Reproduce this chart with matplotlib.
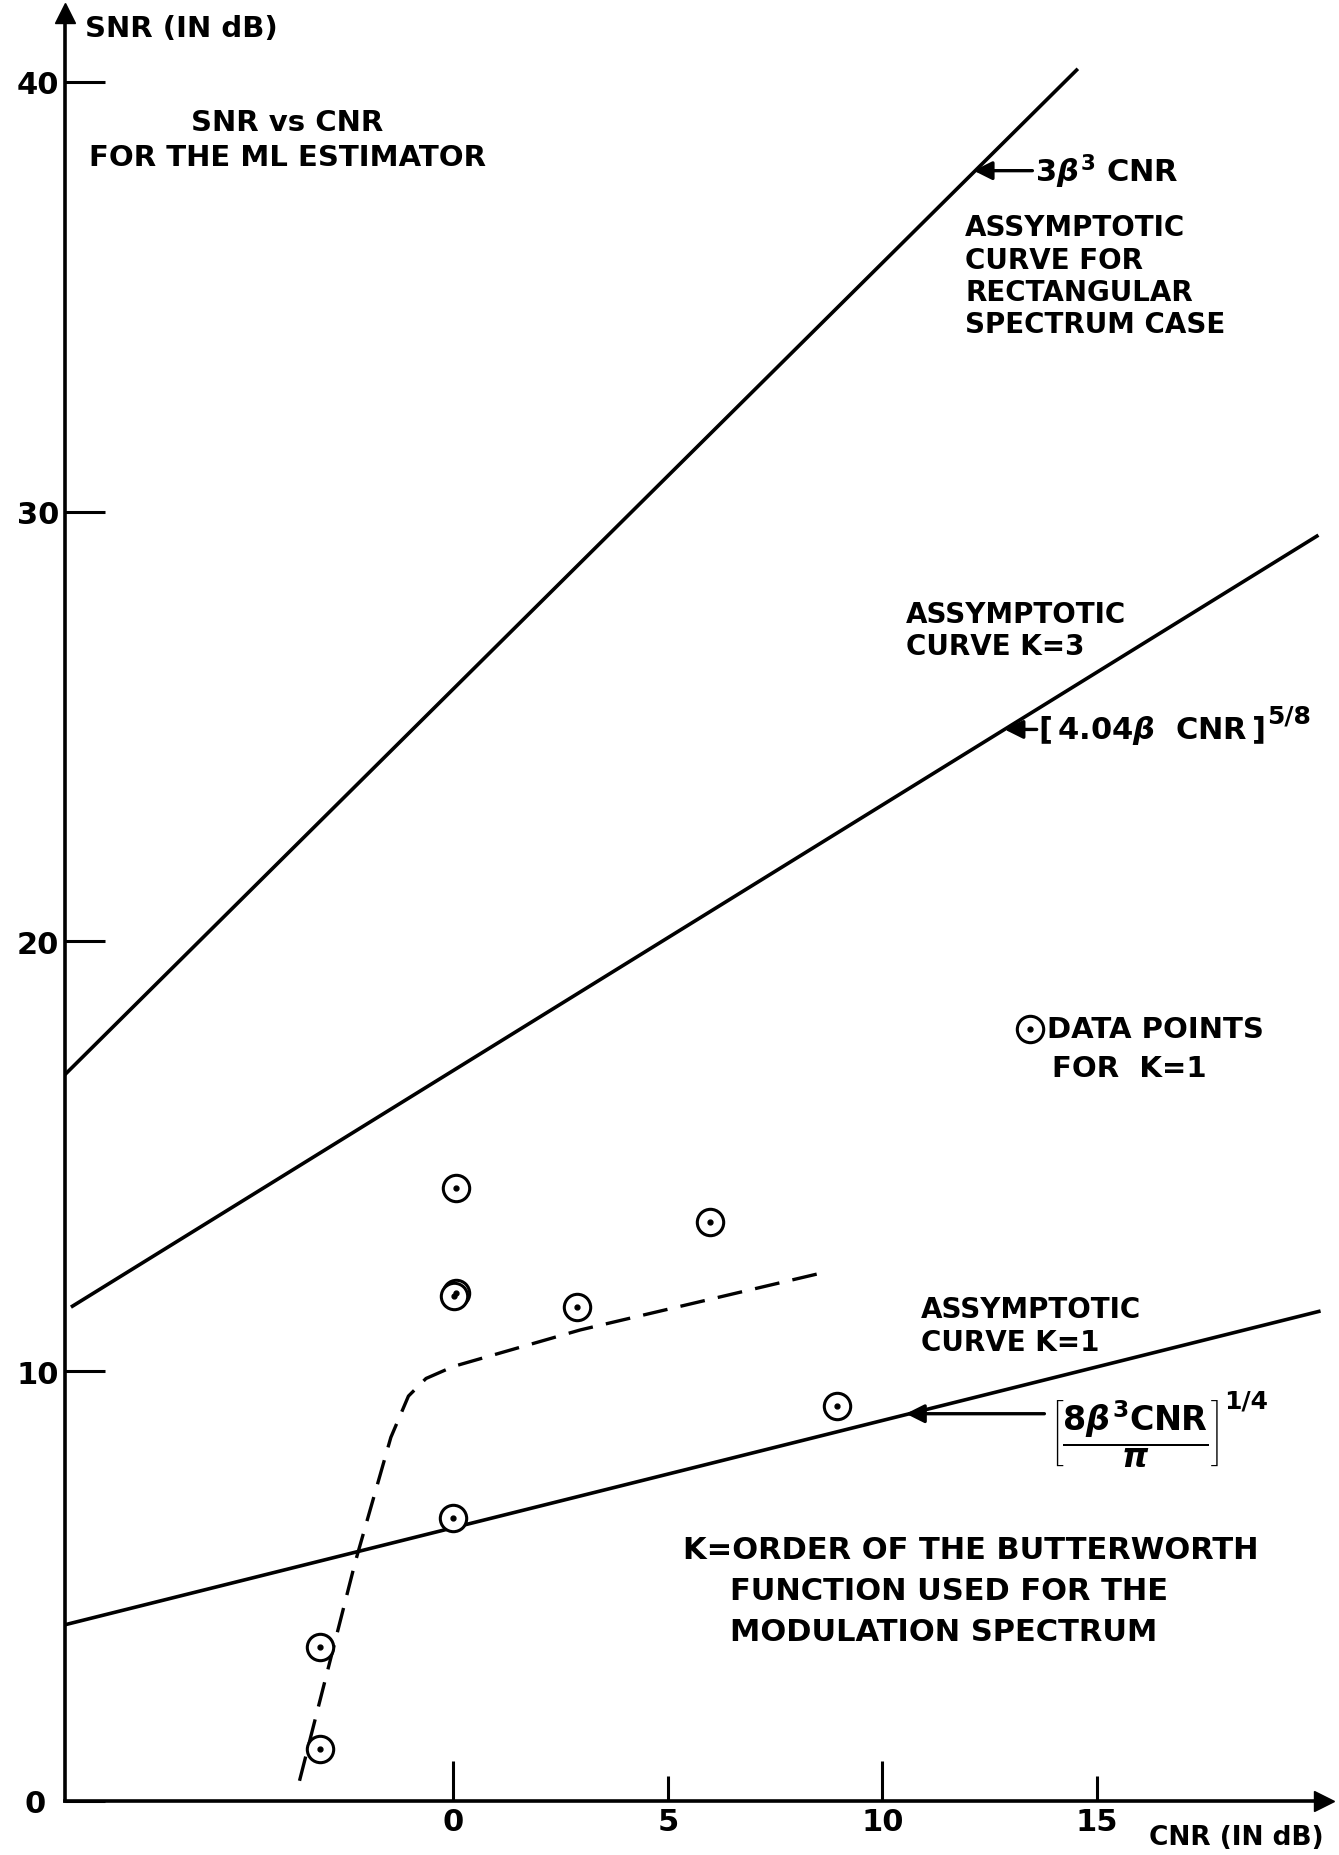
"""SNR vs CNR for the ML estimator - redraw of the hand-lettered chart."""

import matplotlib

matplotlib.use("Agg")
import matplotlib.pyplot as plt  # noqa: E402

plt.rcParams["font.family"] = ["DejaVu Sans"]
plt.rcParams["font.weight"] = "bold"
plt.rcParams["mathtext.fontset"] = "custom"
plt.rcParams["mathtext.rm"] = "DejaVu Sans:bold"
plt.rcParams["mathtext.it"] = "DejaVu Sans:italic:bold"
plt.rcParams["mathtext.bf"] = "DejaVu Sans:bold"

# asymptotic curves (CNR dB -> SNR dB), end points
rect_x = [-9.06, 14.56]
rect_y = [16.9, 40.3]
k3_x = [-8.92, 20.17]
k3_y = [11.49, 29.45]
k1_x = [-9.06, 20.22]
k1_y = [4.10, 11.40]

# dashed fit through the K=1 data
fit_x = [-3.59, -2.29, -1.46, -1.05, -0.64, 0.0, 2.96, 8.48]
fit_y = [0.47, 5.56, 8.46, 9.42, 9.83, 10.11, 10.96, 12.26]

# measured data points for K=1
pts_x = [-3.12, -3.12, 0.0, 0.06, 0.02, 0.05, 2.87, 5.99, 8.95]
pts_y = [1.21, 3.58, 6.58, 11.82, 11.74, 14.27, 11.49, 13.47, 9.20]

x_ticks = [0, 5, 10, 15]
y_ticks = [0, 10, 20, 30, 40]

fig = plt.figure(figsize=(13.39, 18.56), dpi=100)
ax = fig.add_axes([0.0485, 0.0291, 0.9403, 0.9634])
ax.set_xlim(-9.06, 20.3)
ax.set_ylim(0, 41.6)

for s in ("top", "right"):
    ax.spines[s].set_visible(False)
for s in ("left", "bottom"):
    ax.spines[s].set_linewidth(2.6)
ax.plot(1, 0, ">k", transform=ax.transAxes, clip_on=False, markersize=14)
ax.plot(0, 1, "^k", transform=ax.transAxes, clip_on=False, markersize=14)

ax.set_xticks(x_ticks)
ax.set_xticklabels([str(v) for v in x_ticks])
ax.set_yticks(y_ticks)
ax.set_yticklabels([str(v) for v in y_ticks])
ax.tick_params(axis="both", direction="in", width=2.2, length=29,
               labelsize=22, pad=4)
for tk, v in zip(ax.xaxis.get_major_ticks(), x_ticks):
    if v in (5, 15):
        tk.tick1line.set_markersize(18)
for tk, v in zip(ax.yaxis.get_major_ticks(), y_ticks):
    if v == 0:
        tk.tick1line.set_markersize(0)
        tk.set_pad(14)

lw = 2.6
ax.plot(rect_x, rect_y, color="k", lw=lw, solid_capstyle="butt")
ax.plot(k3_x, k3_y, color="k", lw=lw, solid_capstyle="butt")
ax.plot(k1_x, k1_y, color="k", lw=lw, solid_capstyle="butt")
ax.plot(fit_x, fit_y, color="k", lw=2.4, dashes=(7.5, 4))

ax.plot(pts_x, pts_y, "o", ms=19, mfc="white", mec="k", mew=2.2)
ax.plot(pts_x, pts_y, ".", ms=7, color="k")

fs = 20
ax.text(-8.59, 41.24, "SNR (IN dB)", fontsize=21, va="center", ha="left")
ax.text(20.3, -0.83, "CNR (IN dB)", fontsize=19, va="center", ha="right")
ax.text(-3.87, 38.66, "SNR vs CNR\nFOR THE ML ESTIMATOR", fontsize=21,
        ha="center", va="center", multialignment="center", linespacing=1.3)

arrow = dict(arrowstyle="-|>", lw=2.4, color="k", mutation_scale=28,
             shrinkA=0, shrinkB=0)

# rectangular spectrum curve
ax.annotate("", xy=(12.13, 37.93), xytext=(13.50, 37.93), arrowprops=arrow)
ax.text(13.55, 37.93, r"$3\mathit{\beta}^{3}$ CNR", fontsize=22, va="center")
ax.text(11.93, 36.94, "ASSYMPTOTIC\nCURVE FOR\nRECTANGULAR\nSPECTRUM CASE",
        fontsize=fs, va="top", ha="left", linespacing=1.2)

# K = 3 curve
ax.text(10.55, 27.24, "ASSYMPTOTIC\nCURVE K=3", fontsize=fs, va="center",
        ha="left", linespacing=1.2)
ax.annotate("", xy=(12.85, 24.93), xytext=(13.60, 24.93), arrowprops=arrow)
t58 = ax.text(13.62, 24.93, r"$[\,4.04\mathit{\beta}\ \ \mathrm{CNR}\,]$",
              fontsize=22, va="center", ha="left")
ax.annotate("5/8", xy=(1.0, 0.55), xycoords=t58, xytext=(2, 0),
            textcoords="offset points", fontsize=18, va="bottom", ha="left")

# data point legend
ax.plot([13.45], [17.96], "o", ms=19, mfc="white", mec="k", mew=2.2)
ax.plot([13.45], [17.96], ".", ms=7, color="k")
ax.text(13.85, 17.96, "DATA POINTS", fontsize=21, va="center", ha="left")
ax.text(13.95, 17.05, "FOR  K=1", fontsize=21, va="center", ha="left")

# K = 1 curve
ax.text(10.91, 11.06, "ASSYMPTOTIC\nCURVE K=1", fontsize=fs, va="center",
        ha="left", linespacing=1.2)
ax.annotate("", xy=(10.55, 9.01), xytext=(13.78, 9.01), arrowprops=arrow)
t14 = ax.text(13.90, 8.55,
              r"$\left[\dfrac{8\mathit{\beta}^{3}\mathrm{CNR}}{\pi}\right]$",
              fontsize=24, va="center", ha="left")
ax.annotate("1/4", xy=(1.0, 0.8), xycoords=t14, xytext=(4, 0),
            textcoords="offset points", fontsize=18, va="bottom", ha="left")

ax.text(5.36, 5.84, "K=ORDER OF THE BUTTERWORTH", fontsize=22, va="center")
ax.text(6.46, 4.90, "FUNCTION USED FOR THE", fontsize=22, va="center")
ax.text(6.46, 3.94, "MODULATION SPECTRUM", fontsize=22, va="center")

fig.savefig("out.png", dpi=100)
plt.close(fig)
